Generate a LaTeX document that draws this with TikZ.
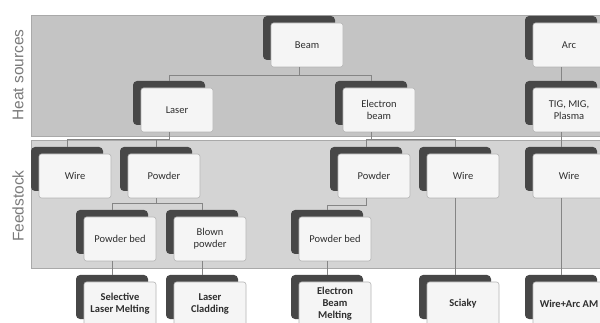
\documentclass[tikz,border=0pt]{standalone}
\usepackage{fontspec}
\setmainfont{Carlito}
\newfontfamily\labelfont{Liberation Sans}
\definecolor{heatband}{HTML}{C4C4C4}
\definecolor{feedband}{HTML}{D4D4D4}
\definecolor{bandedge}{HTML}{A9A9A9}
\definecolor{shadowbox}{HTML}{474747}
\definecolor{lightbox}{HTML}{F5F5F5}
\definecolor{lightedge}{HTML}{B4B4B4}
\definecolor{connline}{HTML}{858585}
\definecolor{labelgray}{HTML}{7A7A7A}
\definecolor{boxtext}{HTML}{2E2E2E}
\tikzset{
  darkbox/.style={draw=none, fill=shadowbox, rounded corners=4pt, minimum width=72pt, minimum height=44pt, inner sep=0pt},
  lbox/.style={draw=lightedge, line width=0.6pt, fill=lightbox, rounded corners=2.5pt, minimum width=72pt, minimum height=44pt, inner sep=1pt, align=center, font=\fontsize{10.5}{12}\selectfont, text=boxtext},
  lboxb/.style={lbox, font=\fontsize{10.5}{12}\selectfont\bfseries},
  conn/.style={draw=connline, line width=0.6pt},
  sidelabel/.style={rotate=90, font=\labelfont\fontsize{15.5}{18}\selectfont, text=labelgray}
}
\begin{document}
\begin{tikzpicture}[x=1pt, y=-1pt]
\useasboundingbox (0,0) rectangle (600,323);
\clip (0,0) rectangle (600,323);
\fill[white] (0,0) rectangle (600,323);
% bands
\filldraw[fill=heatband, draw=bandedge, line width=0.5pt] (31,15) rectangle (605,136);
\filldraw[fill=feedband, draw=bandedge, line width=0.5pt] (31,140) rectangle (605,268);
\node[sidelabel] (lblheat) at (18,75) {Heat sources};
\node[sidelabel] (lblfeed) at (18,206) {Feedstock};
% junction rows
\coordinate (r1) at (0,75);
\coordinate (r2) at (0,139);
\coordinate (r3) at (0,203);
\coordinate (r3b) at (0,205);
% row 1
\node[darkbox] (beamS) at (299,38) {};
\node[lbox] (beam) at (307,45) {Beam};
\node[darkbox] (arcS) at (561,38) {};
\node[lbox] (arc) at (569,45) {Arc};
% row 2
\node[darkbox] (laserS) at (169,103) {};
\node[lbox] (laser) at (177,110) {Laser};
\node[darkbox] (ebS) at (371,103) {};
\node[lbox] (eb) at (379,110) {Electron\\beam};
\node[darkbox] (tigS) at (561,103) {};
\node[lbox] (tig) at (569,110) {TIG, MIG,\\Plasma};
% row 3
\node[darkbox] (wireaS) at (67,169) {};
\node[lbox] (wirea) at (75,176) {Wire};
\node[darkbox] (powaS) at (156,169) {};
\node[lbox] (powa) at (164,176) {Powder};
\node[darkbox] (powbS) at (366,169) {};
\node[lbox] (powb) at (374,176) {Powder};
\node[darkbox] (wirebS) at (455,169) {};
\node[lbox] (wireb) at (463,176) {Wire};
\node[darkbox] (wirecS) at (561,169) {};
\node[lbox] (wirec) at (569,176) {Wire};
% row 4
\node[darkbox] (pbaS) at (112,232) {};
\node[lbox] (pba) at (120,239) {Powder bed};
\node[darkbox] (blownS) at (202,232) {};
\node[lbox] (blown) at (210,239) {Blown\\powder};
\node[darkbox] (pbbS) at (327,232) {};
\node[lbox] (pbb) at (335,239) {Powder bed};
% row 5
\node[darkbox] (slmS) at (112,297) {};
\node[lboxb] (slm) at (120,304) {Selective\\Laser Melting};
\node[darkbox] (lcS) at (202,297) {};
\node[lboxb] (lc) at (210,304) {Laser\\Cladding};
\node[darkbox] (ebmS) at (327,297) {};
\node[lboxb] (ebm) at (335,304) {Electron\\Beam\\Melting};
\node[darkbox] (sciS) at (455,297) {};
\node[lboxb] (sci) at (463,304) {Sciaky};
\node[darkbox] (waamS) at (561,297) {};
\node[lboxb] (waam) at (569,304) {Wire+Arc AM};
% connectors
\draw[conn] (beamS |- beam.south) -- (beamS |- r1) -| (laserS.north);
\draw[conn] (beamS |- r1) -| (ebS.north);
\draw[conn] (arcS |- arc.south) -- (tigS.north);
\draw[conn] (laserS |- laser.south) -- (laserS |- r2) -| (wireaS.north);
\draw[conn] (laserS |- r2) -| (powaS.north);
\draw[conn] (ebS |- eb.south) -- (ebS |- r2) -| (powbS.north);
\draw[conn] (ebS |- r2) -| (wirebS.north);
\draw[conn] (tigS |- tig.south) -- (wirecS.north);
\draw[conn] (powaS |- powa.south) -- (powaS |- r3) -| (pbaS.north);
\draw[conn] (powaS |- r3) -| (blownS.north);
\draw[conn] (powbS |- powb.south) -- (powbS |- r3b) -| (pbbS.north);
\draw[conn] (pbaS |- pba.south) -- (slmS.north);
\draw[conn] (blownS |- blown.south) -- (lcS.north);
\draw[conn] (pbbS |- pbb.south) -- (ebmS.north);
\draw[conn] (wirebS |- wireb.south) -- (sciS.north);
\draw[conn] (wirecS |- wirec.south) -- (waamS.north);
\end{tikzpicture}
\end{document}
